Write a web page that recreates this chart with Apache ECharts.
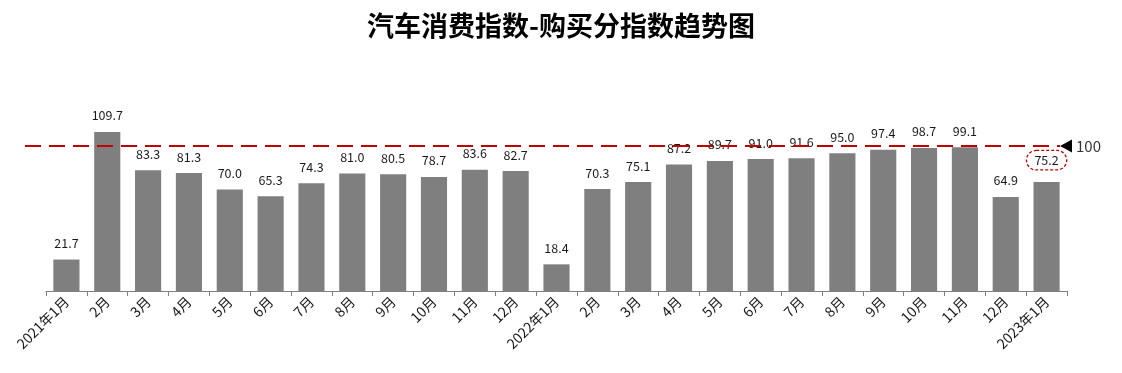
<!DOCTYPE html>
<html><head><meta charset="utf-8">
<script src="https://cdn.jsdelivr.net/npm/echarts@6/dist/echarts.min.js"></script>
<style>html,body{margin:0;padding:0;background:#fff}#c{width:1122px;height:373px}</style>
</head><body><div id="c"></div>
<script>
const titleText = '汽车消费指数-购买分指数趋势图';
const categories = ['2021年1月','2月','3月','4月','5月','6月','7月','8月','9月','10月','11月','12月',
  '2022年1月','2月','3月','4月','5月','6月','7月','8月','9月','10月','11月','12月','2023年1月'];
const values = [21.7,109.7,83.3,81.3,70.0,65.3,74.3,81.0,80.5,78.7,83.6,82.7,
  18.4,70.3,75.1,87.2,89.7,91.0,91.6,95.0,97.4,98.7,99.1,64.9,75.2];
const referenceValue = 100;
const highlightIndex = 24;

const font = '"Microsoft YaHei","Noto Sans CJK SC","Noto Sans",sans-serif';
const chart = echarts.init(document.getElementById('c'));
const data = values.map((v, i) => i === highlightIndex ? {
  value: v,
  label: { distance: 12, borderColor: '#c00000', borderWidth: 1.3, borderType: [3, 2], borderRadius: 20, padding: [4, 8, 3, 8] }
} : v);
chart.setOption({
  animation: false,
  title: { text: titleText, left: 'center', top: 7, textStyle: { fontFamily: font, fontSize: 27, fontWeight: 'bold', color: '#000' } },
  grid: { left: 46, right: 55, top: 117, bottom: 82 },
  xAxis: {
    type: 'category', data: categories,
    axisLine: { lineStyle: { color: '#808080' } },
    axisTick: { show: true, length: 5, lineStyle: { color: '#808080' } },
    axisLabel: { rotate: 45, interval: 0, color: '#1a1a1a', fontSize: 14, fontFamily: font, margin: 8 }
  },
  yAxis: { type: 'value', min: 0, max: 120, show: false, splitLine: { show: false } },
  series: [{
    type: 'bar', data: data, barCategoryGap: '36%',
    itemStyle: { color: '#7f7f7f' },
    label: { show: true, position: 'top', distance: 10, color: '#1a1a1a', fontSize: 12.5, fontFamily: font,
      formatter: p => Number(p.value).toFixed(1) },
    markLine: {
      silent: true,
      symbol: 'none',
      lineStyle: { color: '#c00000', type: [16, 8], width: 2 },
      label: { show: false },
      data: [
        [{ x: 25, yAxis: referenceValue }, { x: 1060, yAxis: referenceValue }],
        [{ x: 1062, yAxis: referenceValue, symbol: 'none' },
         { x: 1066, yAxis: referenceValue, symbol: 'triangle', symbolSize: [13, 12], symbolRotate: 90,
           lineStyle: { color: '#000', type: 'solid', width: 1 },
           label: { show: true, position: 'end', formatter: String(referenceValue), color: '#333', fontSize: 15, fontFamily: font, distance: 10 } }]
      ]
    }
  }]
});
</script></body></html>
